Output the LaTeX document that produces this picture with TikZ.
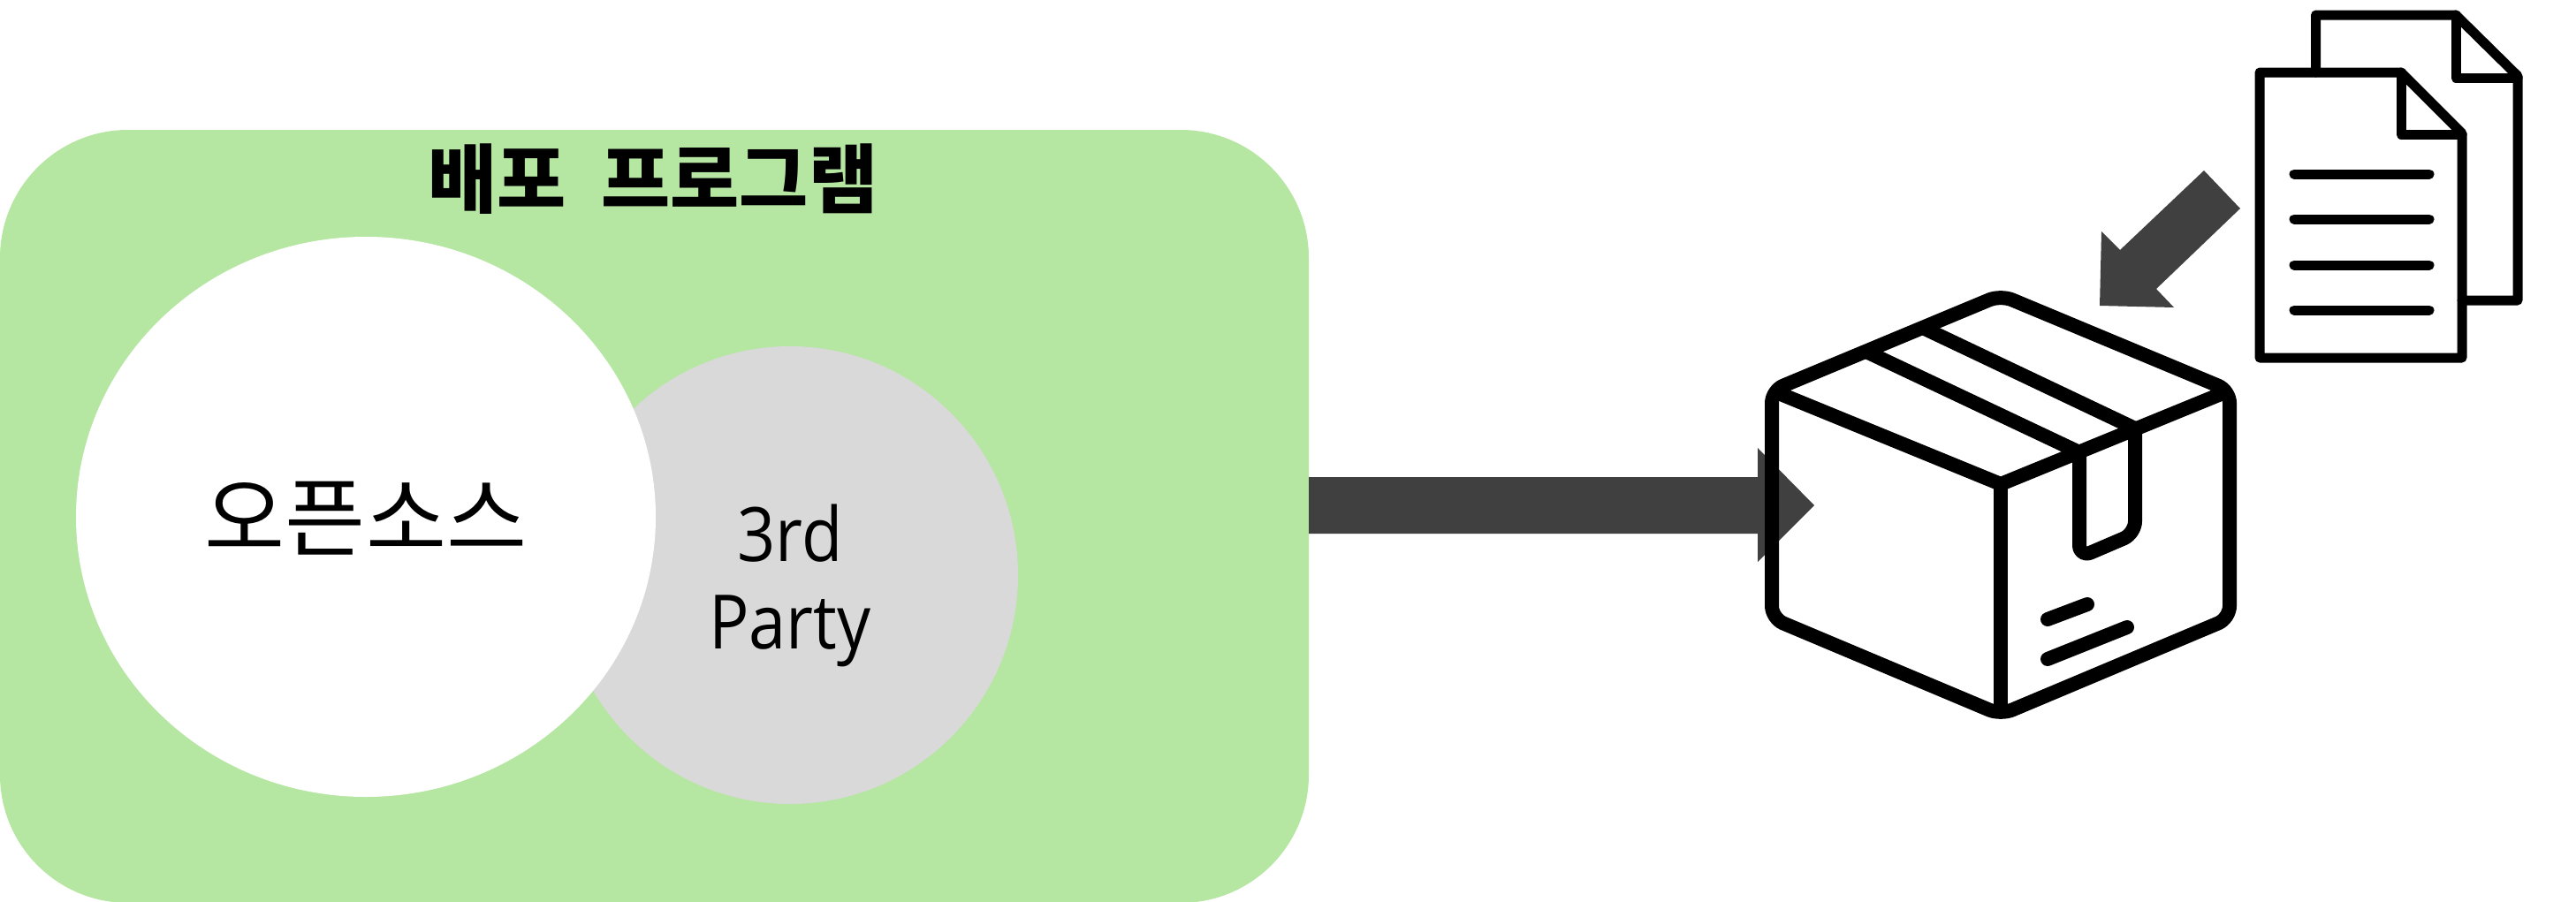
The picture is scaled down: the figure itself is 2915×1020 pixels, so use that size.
\documentclass[tikz,border=0pt]{standalone}
\usepackage{fontspec}
\usepackage{graphicx}
\setmainfont{Open Sans}
\newfontfamily\krfont{Noto Sans CJK KR}
\definecolor{pgreen}{HTML}{B5E6A2}
\definecolor{pgray}{HTML}{D9D9D9}
\definecolor{parrow}{HTML}{404040}
\tikzset{
  boxline/.style={draw=black,line width=16pt,line join=round,line cap=round},
  docline/.style={draw=black,line width=11pt,line join=round,line cap=round},
  arrowfill/.style={fill=parrow,draw=none},
  labeltext/.style={inner sep=0pt,outer sep=0pt,align=center,text=black}
}
\begin{document}
\begin{tikzpicture}[x=1pt,y=-1pt]
\useasboundingbox (0,0) rectangle (2915,1020);
% panel
\fill[pgreen,rounded corners=145pt] (0,147) rectangle (1481,1022);
\fill[pgray] (894,651) ellipse [x radius=258,y radius=259];
\fill[white] (414,585) ellipse [x radius=328,y radius=317];
\node[labeltext,font=\krfont\bfseries\fontsize{85}{100}\selectfont] (title) at (739,203) {배포\hspace{20pt} 프로그램};
\node[labeltext,font=\krfont\fontsize{99}{110}\selectfont] (oss) at (414,587) {오픈소스};
\node[labeltext,font=\fontsize{85}{99}\selectfont] (third) at (894,663) {\scalebox{.89}[1]{3rd}\\\scalebox{.89}[1]{Party}};
% arrows
\fill[arrowfill] (1481,540) -- (1989,540) -- (1989,507) -- (2053,572) -- (1989,636) -- (1989,604) -- (1481,604) -- cycle;
\fill[arrowfill] (2494,193) -- (2535,236) -- (2440,327) -- (2460,348) -- (2376,346) -- (2378,262) -- (2399,283) -- cycle;
% box
\draw[boxline,rounded corners=14pt] (2264,334) -- (2523,442) -- (2523,700) -- (2264,809) -- (2005,700) -- (2005,442) -- cycle;
\draw[boxline,line cap=butt] (2010,444) -- (2264,548) -- (2518,444);
\draw[boxline,line cap=butt] (2264,548) -- (2264,804);
\draw[boxline] (2114,399) -- (2353,512);
\draw[boxline] (2178,372) -- (2416,485);
\draw[boxline,rounded corners=14pt] (2353,512) -- (2353,631) -- (2416,604) -- (2416,485);
\draw[boxline] (2317,701) -- (2362,684);
\draw[boxline] (2317,746) -- (2407,710);
% documents
\draw[docline] (2620.5,82) -- (2620.5,17) -- (2779,17) -- (2849,86) -- (2849,340) -- (2786,340);
\draw[docline] (2779,17) -- (2779,88) -- (2849,88);
\draw[docline] (2557,82) -- (2717,82) -- (2786,151) -- (2786,405) -- (2557,405) -- cycle;
\draw[docline] (2717,82) -- (2717,152) -- (2786,152);
\draw[docline] (2596,197) -- (2749,197);
\draw[docline] (2596,248) -- (2749,248);
\draw[docline] (2596,300) -- (2749,300);
\draw[docline] (2596,351) -- (2749,351);
\end{tikzpicture}
\end{document}
